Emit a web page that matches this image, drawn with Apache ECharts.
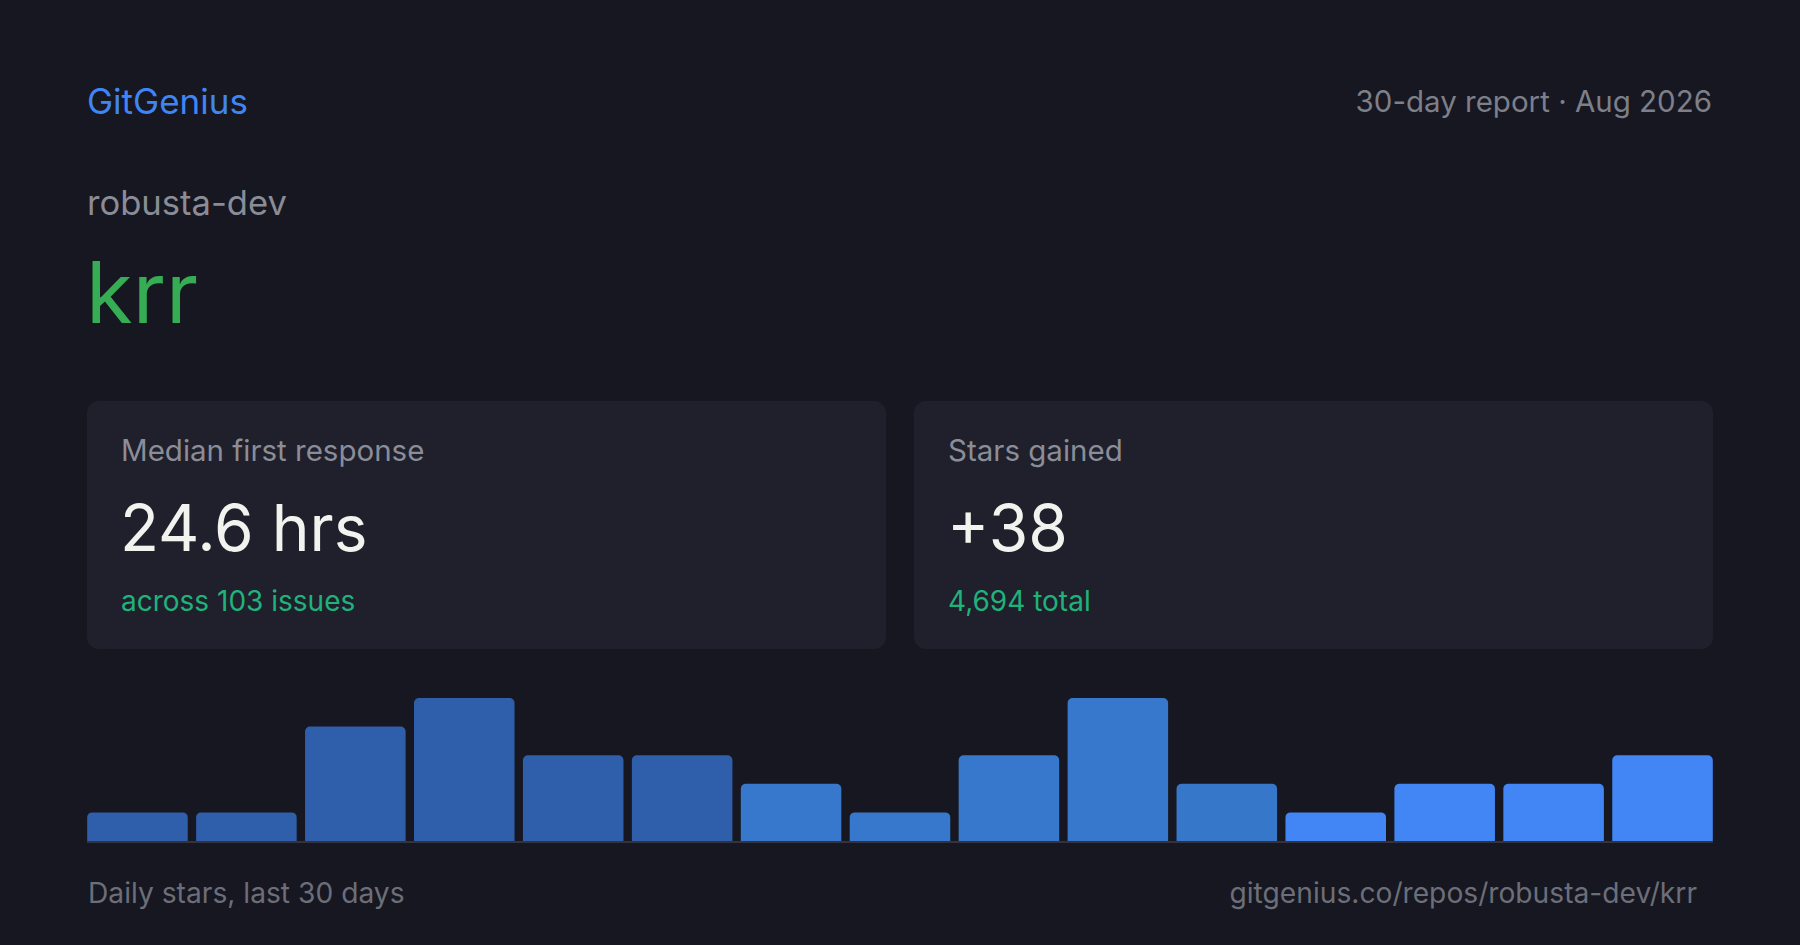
<!DOCTYPE html>
<html>
<head>
<meta charset="utf-8">
<script src="https://cdn.jsdelivr.net/npm/echarts@6/dist/echarts.min.js"></script>
<style>
html,body{margin:0;padding:0;background:#161720;}
#c{width:1800px;height:945px;}
</style>
</head>
<body>
<div id="c"></div>
<script>
// ---- data ----
const categories = ['Day 1–2','Day 3–4','Day 5–6','Day 7–8','Day 9–10','Day 11–12','Day 13–14','Day 15–16','Day 17–18','Day 19–20','Day 21–22','Day 23–24','Day 25–26','Day 27–28','Day 29–30'];
const dailyStars = [1, 1, 4, 5, 3, 3, 2, 1, 3, 5, 2, 1, 2, 2, 3];
const brand = 'GitGenius';
const reportLabel = '30-day report · Aug 2026';
const owner = 'robusta-dev';
const repo = 'krr';
const cardTitles = ['Median first response', 'Stars gained'];
const cardValues = ['24.6 hrs', '+38'];
const cardNotes = ['across 103 issues', '4,694 total'];
const footerLeft = 'Daily stars, last 30 days';
const footerRight = 'gitgenius.co/repos/robusta-dev/krr';

// ---- styles ----
const barPalette = ['#2f5faa','#2f5faa','#2f5faa','#2f5faa','#2f5faa','#2f5faa','#3878cc','#3878cc','#3878cc','#3878cc','#3777c9','#4285f4','#4285f4','#4285f4','#4285f4'];
const FONT = 'Inter, "Noto Sans", sans-serif';

const chart = echarts.init(document.getElementById('c'), null, {renderer: 'svg', width: 1800, height: 945});

function txt(x, y, text, size, color, align, weight) {
  return {
    type: 'text', x: x, y: y, silent: true,
    style: {text: text, fontSize: size, fill: color, fontFamily: FONT, fontWeight: weight || 400,
      textAlign: align || 'left', textVerticalAlign: 'middle'}
  };
}

const cardX = [87, 914];
const graphics = [];
cardX.forEach((cx, i) => {
  graphics.push({type: 'rect', shape: {x: cx, y: 401, width: 799, height: 248, r: 12}, style: {fill: '#1f202b'}, silent: true, z: -1});
  graphics.push(txt(cx + 34, 450, cardTitles[i], 29.5, '#8b8d98'));
  graphics.push(txt(cx + 33, 527, cardValues[i], 64, '#f2f2ee'));
  graphics.push(txt(cx + 34, 601, cardNotes[i], 28, '#1fb27b'));
});
graphics.push(txt(87, 101, brand, 35, '#3f86f4'));
graphics.push(txt(1712, 101, reportLabel, 29.5, '#7d7f8a', 'right'));
graphics.push(txt(87, 202, owner, 34.6, '#8a8c96'));
graphics.push(txt(86, 292, repo, 85, '#36ad55'));
graphics.push(txt(88, 893, footerLeft, 28.2, '#6c6e79'));
graphics.push(txt(1697, 893, footerRight, 28.2, '#6c6e79', 'right'));
graphics.push({type: 'line', shape: {x1: 87, y1: 842, x2: 1713, y2: 842}, style: {stroke: '#32333f', lineWidth: 2}, silent: true});

chart.setOption({
  backgroundColor: '#161720',
  animation: false,
  grid: {left: 83, right: 83, top: 698, bottom: 104, containLabel: false},
  xAxis: {
    type: 'category', data: categories,
    axisLine: {show: false},
    axisTick: {show: false}, axisLabel: {show: false}, splitLine: {show: false}
  },
  yAxis: {type: 'value', min: 0, max: 5, show: false, splitLine: {show: false}},
  series: [{
    type: 'bar', data: dailyStars, barCategoryGap: '7.7%',
    itemStyle: {borderRadius: [5, 5, 0, 0], color: p => barPalette[p.dataIndex]}
  }],
  graphic: graphics
});
</script>
</body>
</html>
